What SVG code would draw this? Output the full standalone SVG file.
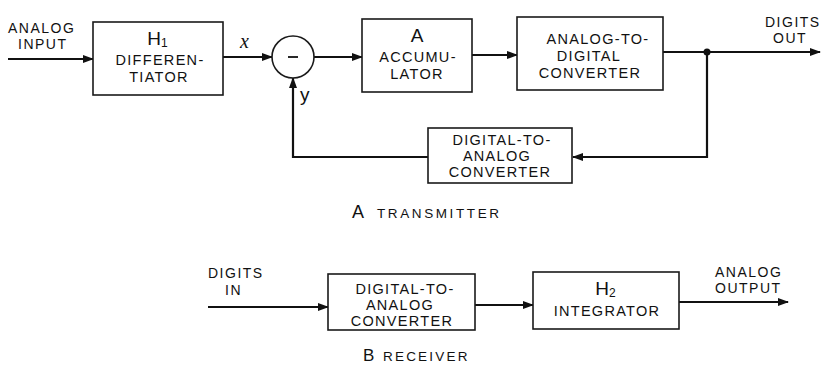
<svg xmlns="http://www.w3.org/2000/svg" width="822" height="366" viewBox="0 0 822 366">
<style>
.box{fill:#fff;stroke:#1a1a1a;stroke-width:1.6}
.ln{fill:none;stroke:#111;stroke-width:2.2}
.t{font-family:"Liberation Sans",Arial,sans-serif;font-size:14.5px;letter-spacing:1.3px;fill:#111;text-anchor:middle}
.big{font-size:19px;letter-spacing:0}
.sub{font-size:12px}
.lab{font-family:"Liberation Sans",Arial,sans-serif;font-size:14px;letter-spacing:1.5px;fill:#111}
</style>
<defs>
<marker id="ah" markerUnits="userSpaceOnUse" markerWidth="11" markerHeight="8" refX="10" refY="4" orient="auto">
<path d="M0,0 L11,4 L0,8 z" fill="#111"/>
</marker>
</defs>
<rect width="822" height="366" fill="#fff"/>
<g id="connectors">
<line class="ln" x1="8" y1="59" x2="93" y2="59" marker-end="url(#ah)"/>
<line class="ln" x1="223" y1="57" x2="272" y2="57" marker-end="url(#ah)"/>
<line class="ln" x1="314" y1="57" x2="362" y2="57" marker-end="url(#ah)"/>
<line class="ln" x1="472" y1="55" x2="517" y2="55" marker-end="url(#ah)"/>
<line class="ln" x1="663" y1="52" x2="820" y2="52" marker-end="url(#ah)"/>
<circle cx="707" cy="52" r="3.5" fill="#111"/>
<polyline class="ln" points="707,52 707,157 573,157" marker-end="url(#ah)"/>
<polyline class="ln" points="428,157 293,157 293,78" marker-end="url(#ah)"/>
<line class="ln" x1="208" y1="307" x2="328" y2="307" marker-end="url(#ah)"/>
<line class="ln" x1="475" y1="305" x2="533" y2="305" marker-end="url(#ah)"/>
<line class="ln" x1="679" y1="302" x2="788" y2="302" marker-end="url(#ah)"/>
</g>
<g id="analog-input">
<text class="lab" x="8" y="33">ANALOG</text>
<text class="lab" x="18" y="49">INPUT</text>
</g>
<g id="differentiator">
<rect class="box" x="93" y="22" width="130" height="73"/>
<text class="t" x="158" y="45"><tspan class="big">H</tspan><tspan class="sub" dy="2">1</tspan></text>
<text class="t" x="160" y="65">DIFFEREN-</text>
<text class="t" x="159" y="82">TIATOR</text>
</g>
<g id="x-label">
<text x="240" y="48" font-family="Liberation Serif,serif" font-style="italic" font-size="20" fill="#111">x</text>
</g>
<g id="subtractor">
<circle cx="293" cy="57" r="21" fill="#fff" stroke="#1a1a1a" stroke-width="1.6"/>
<line x1="288" y1="57" x2="298" y2="57" stroke="#111" stroke-width="1.8"/>
</g>
<g id="y-label">
<text x="300" y="101" font-family="Liberation Sans,Arial,sans-serif" font-size="19" fill="#111">y</text>
</g>
<g id="accumulator">
<rect class="box" x="362" y="19" width="110" height="73"/>
<text class="t big" x="417" y="42">A</text>
<text class="t" x="418" y="62">ACCUMU-</text>
<text class="t" x="417" y="79">LATOR</text>
</g>
<g id="adc">
<rect class="box" x="517" y="17" width="146" height="73"/>
<text class="t" x="598" y="44">ANALOG-TO-</text>
<text class="t" x="589" y="61">DIGITAL</text>
<text class="t" x="590" y="78">CONVERTER</text>
</g>
<g id="digits-out">
<text class="lab" x="765" y="27">DIGITS</text>
<text class="lab" x="773" y="43">OUT</text>
</g>
<g id="dac-tx">
<rect class="box" x="428" y="128" width="144" height="55"/>
<text class="t" x="502" y="145" font-size="14">DIGITAL-TO-</text>
<text class="t" x="497" y="161" font-size="14">ANALOG</text>
<text class="t" x="500" y="177" font-size="14">CONVERTER</text>
</g>
<g id="caption-a">
<text x="352" y="218" font-family="Liberation Sans,Arial,sans-serif" font-size="18" fill="#111">A</text>
<text x="377" y="218" font-family="Liberation Sans,Arial,sans-serif" font-size="13.5" letter-spacing="2.6" fill="#111">TRANSMITTER</text>
</g>
<g id="digits-in">
<text class="lab" x="208" y="278">DIGITS</text>
<text class="lab" x="225" y="295">IN</text>
</g>
<g id="dac-rx">
<rect class="box" x="328" y="274" width="147" height="56"/>
<text class="t" x="405" y="294" font-size="14">DIGITAL-TO-</text>
<text class="t" x="400" y="310" font-size="14">ANALOG</text>
<text class="t" x="402" y="326" font-size="14">CONVERTER</text>
</g>
<g id="integrator">
<rect class="box" x="533" y="272" width="146" height="57"/>
<text class="t" x="606" y="295"><tspan class="big">H</tspan><tspan class="sub" dy="2">2</tspan></text>
<text class="t" x="607" y="316">INTEGRATOR</text>
</g>
<g id="analog-output">
<text class="lab" x="715" y="277">ANALOG</text>
<text class="lab" x="715" y="293">OUTPUT</text>
</g>
<g id="caption-b">
<text x="363" y="361" font-family="Liberation Sans,Arial,sans-serif" font-size="17" fill="#111">B</text>
<text x="383" y="361" font-family="Liberation Sans,Arial,sans-serif" font-size="13.5" letter-spacing="2.2" fill="#111">RECEIVER</text>
</g>
</svg>
